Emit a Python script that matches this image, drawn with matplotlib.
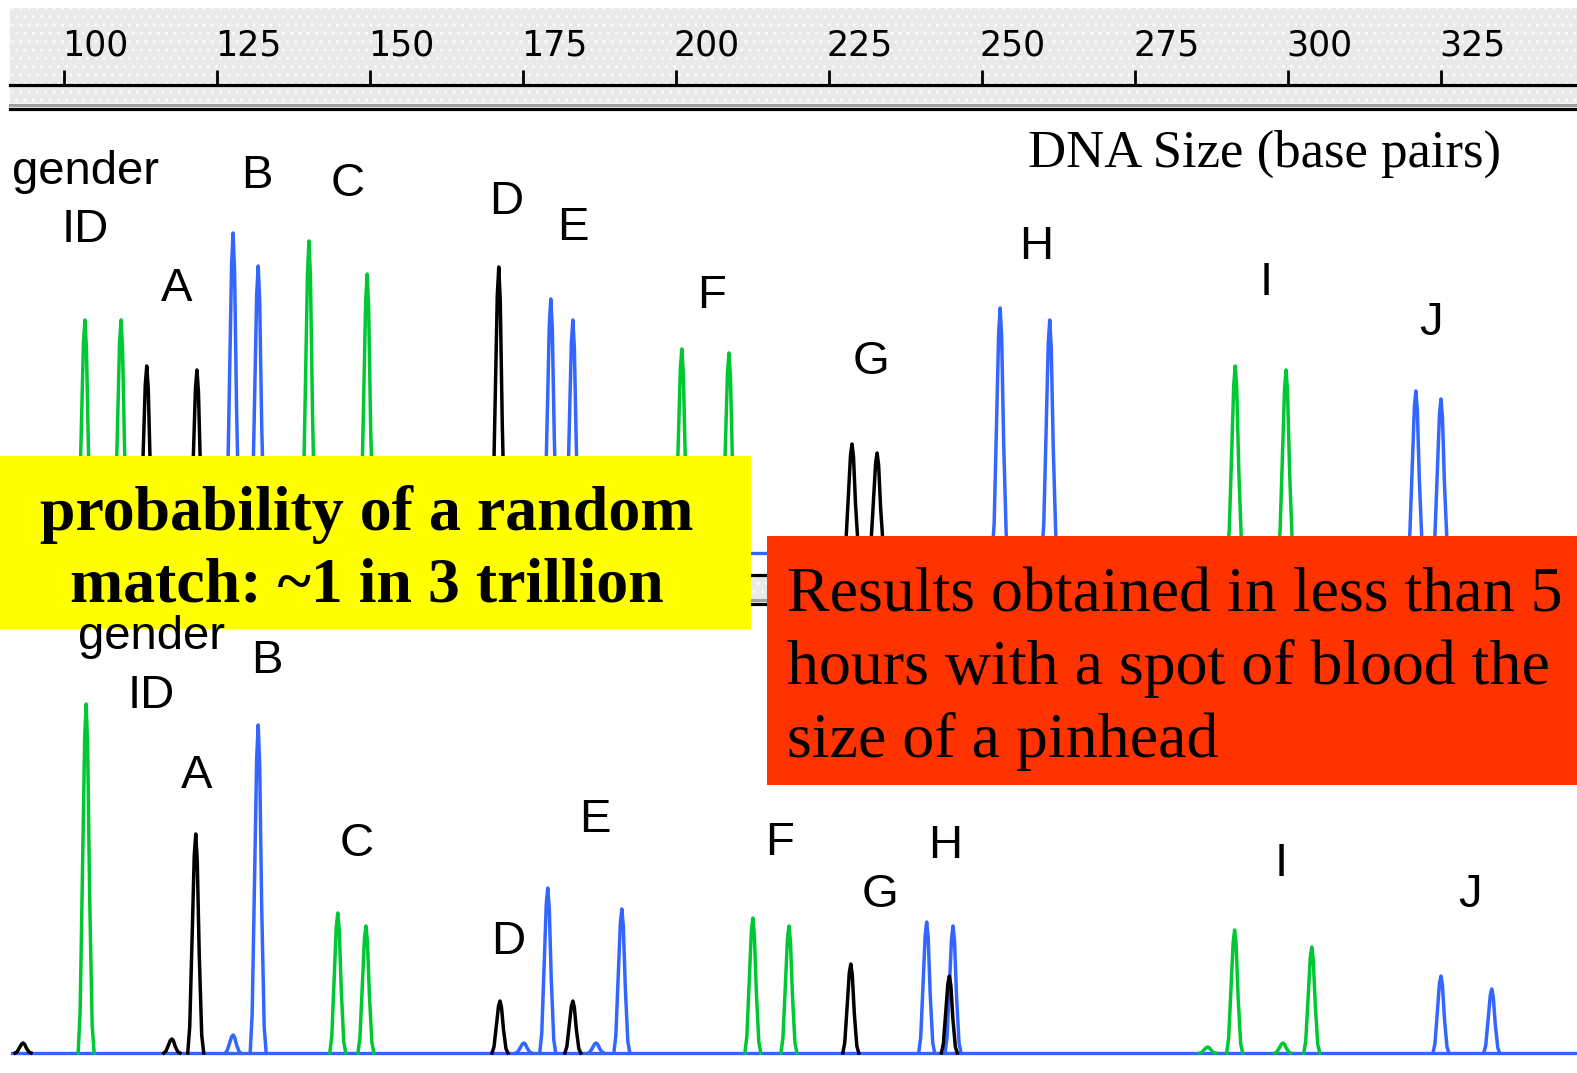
import matplotlib
matplotlib.use("Agg")
import matplotlib.pyplot as plt
from matplotlib.patches import Rectangle
import numpy as np

W, H = 1577, 1073

# ---- data -------------------------------------------------------------
ruler_ticks = [100, 125, 150, 175, 200, 225, 250, 275, 300, 325]

# top lane (reference sample): peak size (bp), height, dye
top_bp = [103.5, 109.4, 113.6, 121.8, 127.7, 131.8, 140.1, 149.6, 171.1, 179.6,
          183.2, 201.0, 208.7, 228.8, 232.9, 253.0, 261.1, 291.4, 299.7, 320.9, 325.0]
top_rfu = [233, 233, 187, 183, 320, 287, 312, 279, 286, 254,
           233, 204, 200, 109, 100, 245, 233, 187, 183, 162, 154]
top_dye = ["g", "g", "k", "k", "b", "b", "g", "g", "k", "b",
           "b", "g", "g", "k", "k", "b", "b", "g", "g", "b", "b"]

# bottom lane (blood spot sample)
bot_bp = [93.4, 103.7, 117.7, 121.6, 127.7, 131.8, 144.8, 149.4, 171.3, 175.2,
          179.1, 183.2, 187.0, 191.2, 212.6, 218.5, 228.6, 241.0, 245.3, 244.7,
          286.9, 291.3, 299.2, 303.9, 325.0, 333.3]
bot_rfu = [10, 349, 14, 219, 18, 328, 140, 127, 52, 10,
           165, 52, 10, 144, 135, 127, 89, 131, 127, 77,
           6, 123, 10, 106, 77, 64]
bot_dye = ["k", "g", "k", "k", "b", "b", "g", "g", "k", "b",
           "b", "k", "b", "b", "g", "g", "k", "b", "b", "k",
           "g", "g", "g", "g", "b", "b"]

loci = ["A", "B", "C", "D", "E", "F", "G", "H", "I", "J"]

yellow_text = "probability of a random\nmatch: ~1 in 3 trillion"
red_text = "Results obtained in less than 5\nhours with a spot of blood the\nsize of a pinhead"
axis_title = "DNA Size (base pairs)"

# ---- layout -------------------------------------------------------------
PX_PER_BP = 6.122
X100 = 63.5
def bp_at(px):
    return 100 + (px - X100) / PX_PER_BP
XL = (bp_at(0), bp_at(W))

COLORS = {"g": "#00c832", "b": "#3366ff", "k": "black"}

fig = plt.figure(figsize=(W / 100, H / 100), dpi=100)
fig.patch.set_facecolor("white")

def px_axes(top, bottom):
    ax = fig.add_axes([0, 1 - bottom / H, 1, (bottom - top) / H])
    ax.set_xlim(*XL)
    ax.set_facecolor("none")
    ax.axis("off")
    return ax

# rulers (y in pixels, inverted)
def ruler(ax, with_labels):
    ax.set_ylim(120, 0)
    x0 = bp_at(10)
    if with_labels:
        ax.fill_between([x0, XL[1]], 8, 103, color="#e9e9e9", hatch="..",
                        edgecolor="#fbfbfb", linewidth=0)
        ax.vlines(ruler_ticks, 70, 85, color="black", lw=2)
        for t in ruler_ticks:
            ax.text(t - 0.3, 45, str(t), ha="left", va="center", fontsize=25,
                    family="DejaVu Sans", color="black")
        ax.plot([x0, XL[1]], [85, 85], color="black", lw=2.3)
        ax.plot([x0, XL[1]], [105, 105], color="#a0a0a0", lw=2.3)
        ax.plot([x0, XL[1]], [109, 109], color="black", lw=2.3)
    else:
        ax.fill_between([x0, XL[1]], 3, 27, color="#e9e9e9", hatch="..",
                        edgecolor="#fbfbfb", linewidth=0)
        ax.plot([x0, XL[1]], [2, 2], color="black", lw=2.3)
        ax.plot([x0, XL[1]], [27, 27], color="#a0a0a0", lw=2.3)
        ax.plot([x0, XL[1]], [31, 31], color="black", lw=2.3)

ruler(px_axes(0, 120), True)
ruler(px_axes(573, 693), False)

prof_dx = np.array([-8, -6, -3.5, -1.5, 0, 1.5, 3.5, 6, 8]) / PX_PER_BP
prof_h = np.array([0, 0.12, 0.55, 0.9, 1, 0.88, 0.45, 0.08, 0])

def lane(top, bottom, baseline, bps, rfus, dyes):
    ax = px_axes(top, bottom)
    ax.set_ylim(baseline - bottom, baseline - top)
    ax.plot([bp_at(12), XL[1]], [0, 0], color=COLORS["b"], lw=2.4, zorder=1)
    for b, r, d in zip(bps, rfus, dyes):
        ax.plot(b + prof_dx, r * prof_h, color=COLORS[d], lw=2.5,
                zorder=3 if d == "k" else 2)
    return ax

lane(113, 560, 553, top_bp, top_rfu, top_dye)
lane(606, 1062, 1053, bot_bp, bot_rfu, bot_dye)

# ---- overlay: labels and boxes -----------------------------------------
ov = fig.add_axes([0, 0, 1, 1])
ov.set_xlim(0, W)
ov.set_ylim(H, 0)
ov.axis("off")
ov.set_facecolor("none")
ov.set_zorder(10)

lab = dict(fontsize=34, family="Liberation Sans", ha="center", va="center")
top_pos = [(177, 289), (257, 176), (348, 184), (506, 202), (573, 228),
           (712, 296), (871, 362), (1036, 247), (1266, 283), (1431, 323)]
bot_pos = [(197, 776), (267, 661), (357, 844), (508, 942), (595, 820),
           (780, 843), (880, 895), (945, 846), (1281, 864), (1470, 895)]
ov.text(86, 172, "gender", **lab)
ov.text(85, 230, "ID", **lab)
ov.text(151, 637, "gender", **lab)
ov.text(151, 696, "ID", **lab)
for name, (x, y) in zip(loci, top_pos):
    ov.text(x, y, name, **lab)
for name, (x, y) in zip(loci, bot_pos):
    ov.text(x, y, name, **lab)

ov.text(1265, 154, axis_title, fontsize=38, family="Liberation Serif",
        ha="center", va="center")

ov.add_patch(Rectangle((0, 456), 751, 173, facecolor="#ffff00", edgecolor="none"))
ov.text(367, 550, yellow_text, fontsize=46, family="Liberation Serif",
        weight="bold", ha="center", va="center", linespacing=1.3)

ov.add_patch(Rectangle((767, 536), W - 767, 249, facecolor="#ff3300", edgecolor="none"))
ov.text(787, 669, red_text, fontsize=46, family="Liberation Serif",
        ha="left", va="center", linespacing=1.31)

fig.savefig("out.png", dpi=100, facecolor="white")
